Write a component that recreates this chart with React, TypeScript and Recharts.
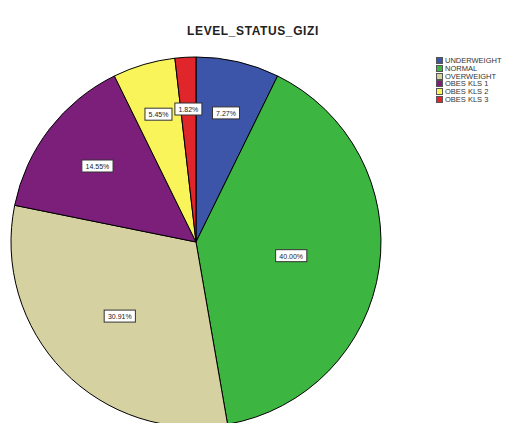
import React from 'react';
import { PieChart, Pie, Cell, Legend } from 'recharts';

const categories = ['UNDERWEIGHT', 'NORMAL', 'OVERWEIGHT', 'OBES KLS 1', 'OBES KLS 2', 'OBES KLS 3'];
const percents = [7.27, 40.0, 30.91, 14.55, 5.45, 1.82];
const colors = ['#3D55A8', '#3DB541', '#D6D1A0', '#7C1F7B', '#F8F45A', '#E1262B'];

const data = categories.map((name, i) => ({ name, value: percents[i] }));

const RADIAN = Math.PI / 180;

// small slices get their labels pushed further out, like the SPSS layout
const renderLabel = (props: any) => {
    const { cx, cy, midAngle, outerRadius, value } = props;
    const r = outerRadius * Math.min(0.72, 0.76 - 0.006 * value);
    const x = cx + r * Math.cos(-midAngle * RADIAN);
    const y = cy + r * Math.sin(-midAngle * RADIAN);
    const text = `${value.toFixed(2)}%`;
    const w = text.length * 4.2 + 6;
    return (
        <g>
            <rect x={x - w / 2} y={y - 6} width={w} height={12} fill="#ffffff" stroke="#333" strokeWidth={1} />
            <text x={x} y={y + 3} textAnchor="middle" fontSize={7} fill="#222" fontFamily="Arial, sans-serif">
                {text}
            </text>
        </g>
    );
};

const renderLegend = () => (
    <div style={{ fontFamily: 'Arial, sans-serif', fontSize: 7.5, color: '#333', whiteSpace: 'nowrap' }}>
        {categories.map((c, i) => (
            <div key={c} style={{ display: 'flex', alignItems: 'center', height: 7.7 }}>
                <span style={{ width: 7, height: 7, background: colors[i], border: '1px solid #555', boxSizing: 'border-box', marginRight: 2, flexShrink: 0 }} />
                <span>{c}</span>
            </div>
        ))}
    </div>
);

const App: React.FC = () => {
    return (
        <div style={{ position: 'absolute', left: 0, top: 0, width: 512, height: 423, background: '#fff', overflow: 'hidden' }}>
            <div style={{ position: 'absolute', top: 24, left: 0, width: 506, textAlign: 'center', fontFamily: 'Arial, sans-serif', fontWeight: 'bold', fontSize: 12, letterSpacing: 0.6, color: '#222' }}>
                LEVEL_STATUS_GIZI
            </div>
            <PieChart width={512} height={423} margin={{ top: 0, right: 0, bottom: 0, left: 0 }}>
                <Pie
                    data={data}
                    dataKey="value"
                    nameKey="name"
                    cx={196}
                    cy={242}
                    outerRadius={185}
                    startAngle={90}
                    endAngle={-270}
                    stroke="#000"
                    strokeWidth={1}
                    label={renderLabel}
                    labelLine={false}
                    isAnimationActive={false}
                >
                    {data.map((d, i) => (
                        <Cell key={d.name} fill={colors[i]} />
                    ))}
                </Pie>
                <Legend content={renderLegend} layout="vertical" align="right" verticalAlign="top" wrapperStyle={{ left: 436, top: 57, width: 76 }} />
            </PieChart>
        </div>
    );
};

export default App;
